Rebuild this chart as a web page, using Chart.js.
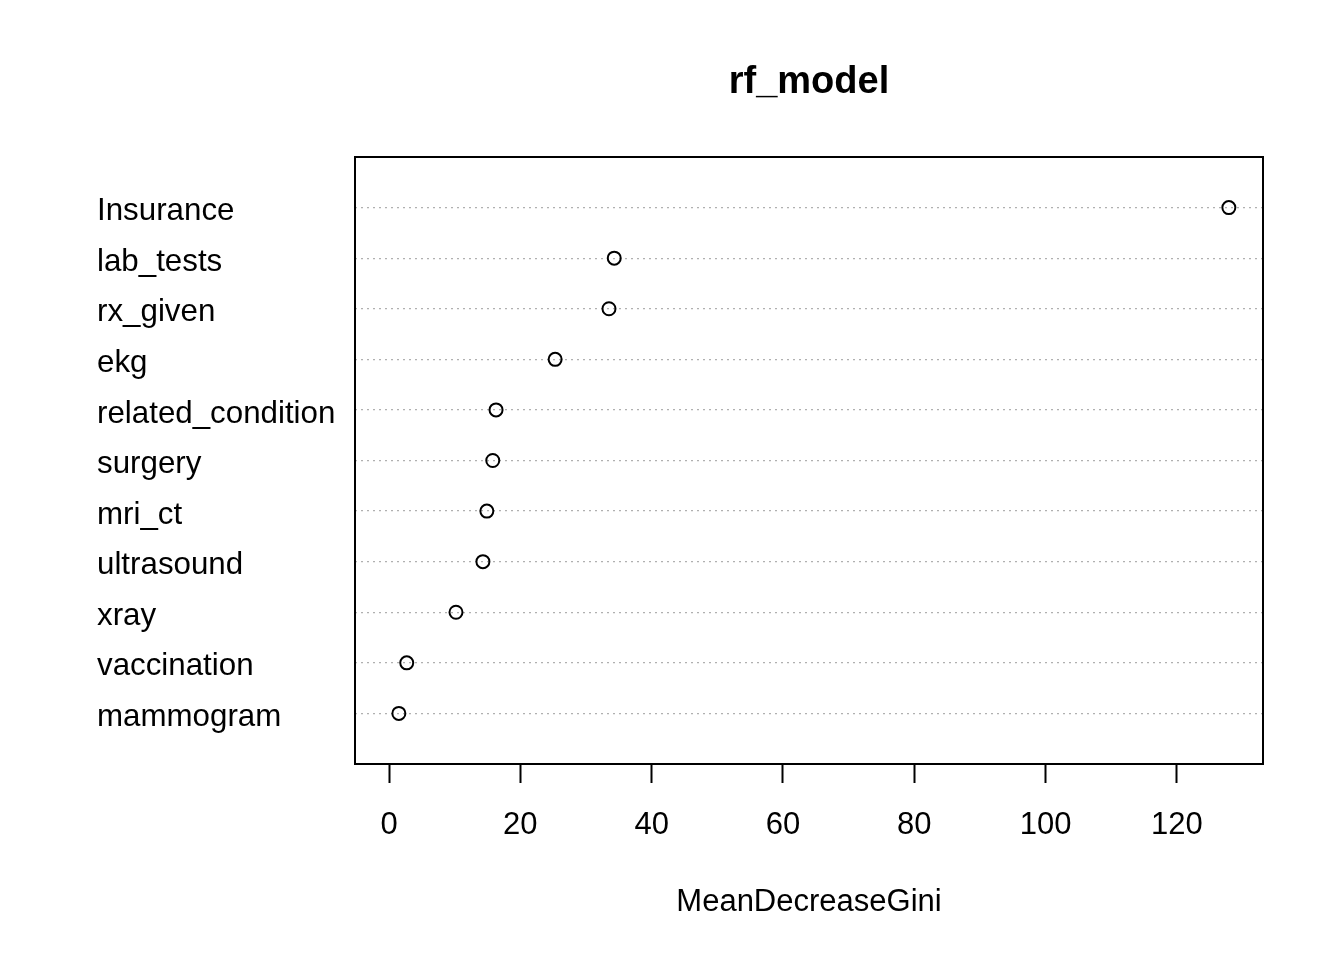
<!DOCTYPE html>
<html>
<head>
<meta charset="utf-8">
<script src="https://cdn.jsdelivr.net/npm/chart.js@4"></script>
<style>
  html, body { margin: 0; padding: 0; background: #fff; }
  #wrap { width: 1344px; height: 960px; }
</style>
</head>
<body>
<div id="wrap"><canvas id="chart" width="1344" height="960"></canvas></div>
<script>
// variables, top to bottom as in the plot
const variables = ['Insurance', 'lab_tests', 'rx_given', 'ekg', 'related_condition',
  'surgery', 'mri_ct', 'ultrasound', 'xray', 'vaccination', 'mammogram'];
const giniValues = [127.9, 34.3, 33.5, 25.3, 16.3, 15.8, 14.9, 14.3, 10.2, 2.7, 1.5];
const xTicks = [0, 20, 40, 60, 80, 100, 120];
const mainTitle = 'rf_model';
const xTitle = 'MeanDecreaseGini';

const FONT = '"Liberation Sans", Arial, sans-serif';

// box, main title and x label drawn the R way
const rDecor = {
  id: 'rDecor',
  afterDraw(chart) {
    const { ctx, chartArea: a } = chart;
    ctx.save();
    ctx.strokeStyle = '#000';
    ctx.lineWidth = 2;
    ctx.strokeRect(a.left, a.top, a.right - a.left, a.bottom - a.top);
    const cx = (a.left + a.right) / 2;
    ctx.fillStyle = '#000';
    ctx.textAlign = 'center';
    ctx.textBaseline = 'middle';
    ctx.font = 'bold 38px ' + FONT;
    ctx.fillText(mainTitle, cx, 83);
    ctx.font = '31px ' + FONT;
    ctx.fillText(xTitle, cx, 902);
    ctx.restore();
  }
};

new Chart(document.getElementById('chart'), {
  type: 'scatter',
  data: {
    datasets: [{
      data: giniValues.map((v, i) => ({ x: v, y: i + 1 })),
      pointStyle: 'circle',
      pointRadius: 6.5,
      pointHoverRadius: 6.5,
      borderColor: '#000',
      backgroundColor: 'rgba(0,0,0,0)',
      borderWidth: 2
    }]
  },
  options: {
    responsive: false,
    animation: false,
    layout: { padding: { left: 97, top: 157, right: 81, bottom: 0 } },
    plugins: {
      legend: { display: false },
      tooltip: { enabled: false },
      title: { display: false }
    },
    scales: {
      x: {
        type: 'linear',
        min: -5.18,
        max: 133.1,
        afterBuildTicks: s => { s.ticks = xTicks.map(v => ({ value: v })); },
        afterFit: s => { s.height = 196; },
        grid: { drawOnChartArea: false, drawTicks: true, tickLength: 19, tickColor: '#000', tickWidth: 2 },
        border: { display: false },
        ticks: { color: '#000', font: { family: FONT, size: 31 }, padding: 24, maxRotation: 0 }
      },
      y: {
        type: 'linear',
        reverse: true,
        min: 0,
        max: 12,
        afterBuildTicks: s => { s.ticks = variables.map((_, i) => ({ value: i + 1 })); },
        afterFit: s => { s.width = 258; },
        grid: { drawTicks: false, color: '#b0b0b0', lineWidth: 1.3 },
        border: { display: false, dash: [2, 4] },
        ticks: {
          color: '#000',
          font: { family: FONT, size: 31.3 },
          crossAlign: 'far',
          padding: 0,
          labelOffset: 4,
          callback: v => variables[v - 1]
        }
      }
    }
  },
  plugins: [rDecor]
});
</script>
</body>
</html>
